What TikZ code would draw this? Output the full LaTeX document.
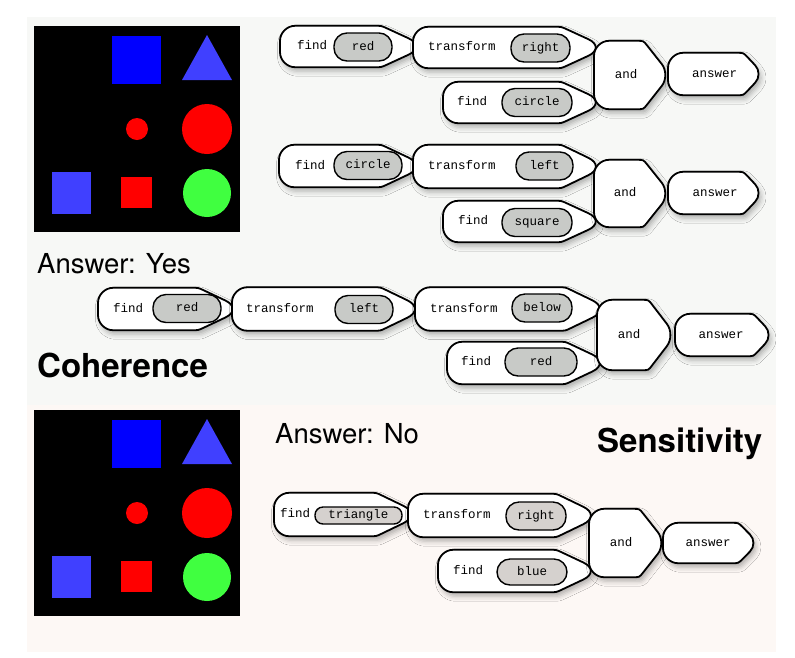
\documentclass[tikz,border=0pt]{standalone}
\usepackage{fontspec}
\setmainfont{TeX Gyre Heros}
\newfontfamily\modfont{Liberation Mono}
\usepackage{xcolor}
\usepackage{tikz}
\usetikzlibrary{calc, shadows.blur}

\definecolor{topbg}{RGB}{247,248,246}
\definecolor{botbg}{RGB}{253,248,245}
\definecolor{pureblue}{RGB}{0,0,255}
\definecolor{softblue}{RGB}{64,64,255}
\definecolor{purered}{RGB}{255,0,0}
\definecolor{softgreen}{RGB}{64,255,64}
\definecolor{argtop}{RGB}{200,202,199}
\definecolor{argbot}{RGB}{213,209,206}

\tikzset{
    modframe/.style={
        rectangle,
        inner sep=0pt,
        anchor=west
    },
    modline/.style={
        draw=black,
        line width=1.8pt,
        fill=white,
        blur shadow={shadow xshift=2.5pt, shadow yshift=-4pt, shadow blur radius=5pt, shadow opacity=30}
    },
    modtext/.style={
        inner sep=0pt,
        text height=8pt,
        text depth=2pt,
        font=\modfont\fontsize{12.5}{14}\selectfont
    },
    argpill/.style={
        modtext,
        draw=black,
        line width=1.4pt,
        fill=argtop,
        rounded corners=13pt,
        minimum height=28pt
    },
    caption/.style={
        anchor=base west,
        inner sep=0pt,
        font=\fontsize{27.5}{30}\selectfont
    },
    heading/.style={
        anchor=base west,
        inner sep=0pt,
        font=\fontsize{33}{36}\selectfont\bfseries
    }
}

% outline of a module: rounded on the left, blunt point on the right
% #1 frame node, #2 length of the slant, #3 how far the tip is rounded off
\newcommand{\modoutline}[3]{%
    \path (#1.north west) coordinate (#1-nw) (#1.south west) coordinate (#1-sw)
        ([xshift=-#2]#1.north east) coordinate (#1-nc)
        ([xshift=-#2]#1.south east) coordinate (#1-sc)
        (#1.east) coordinate (#1-tip);
    \draw[modline]
        ($(#1-nw)!15pt!(#1-sw)$) .. controls ($(#1-nw)!7pt!(#1-sw)$) and ($(#1-nw)!7pt!(#1-nc)$) .. ($(#1-nw)!15pt!(#1-nc)$)
        -- ($(#1-nc)!6pt!(#1-nw)$) .. controls (#1-nc) .. ($(#1-nc)!6pt!(#1-tip)$)
        -- ($(#1-tip)!#3!(#1-nc)$) .. controls ($(#1-tip)!0.45*#3!(#1-nc)$) and ($(#1-tip)!0.45*#3!(#1-sc)$) .. ($(#1-tip)!#3!(#1-sc)$)
        -- ($(#1-sc)!6pt!(#1-tip)$) .. controls (#1-sc) .. ($(#1-sc)!6pt!(#1-sw)$)
        -- ($(#1-sw)!15pt!(#1-sc)$) .. controls ($(#1-sw)!7pt!(#1-sc)$) and ($(#1-sw)!7pt!(#1-nw)$) .. ($(#1-sw)!15pt!(#1-nw)$)
        -- cycle;
}

\begin{document}
\begin{tikzpicture}[x=1pt,y=-1pt]

    \useasboundingbox (0,0) rectangle (795,657);

    % panels
    \fill[topbg] (27,17) rectangle (776,405);
    \fill[botbg] (27,405) rectangle (776,652);

    % the two scenes
    \foreach \oy in {0,384} {
        \begin{scope}[shift={(0,\oy)}]
            \fill[black] (34,26) rectangle (240,232);
            \fill[pureblue] (112,36) rectangle (161,84);
            \fill[softblue] (207,35) -- (182,80) -- (232,80) -- cycle;
            \fill[purered] (137,129) circle[radius=11];
            \fill[purered] (207,129) circle[radius=25];
            \fill[softblue] (52,172) rectangle (91,214);
            \fill[purered] (121,177) rectangle (152,208);
            \fill[softgreen] (207,193) circle[radius=24];
        \end{scope}
    }

    \node[caption] (ansyes) at (37,273) {Answer: Yes};
    \node[heading] (coherence) at (37,377) {Coherence};
    \node[caption] (ansno) at (275,443) {Answer: No};
    \node[heading] (sensitivity) at (597,452) {Sensitivity};

    % first layout
    \node[modframe, minimum width=146pt, minimum height=41pt] (a1) at (280,46.5) {};
    \modoutline{a1}{45pt}{20pt}
    \node[modtext, anchor=west] (a1t) at (297,46.5) {find};
    \node[argpill, minimum width=58pt] (a1arg) at (363,47) {red};
    \node[modframe, minimum width=193pt, minimum height=41pt] (a2) at (413,47.5) {};
    \modoutline{a2}{45pt}{20pt}
    \node[modtext, anchor=west] (a2t) at (428,47.5) {transform};
    \node[argpill, minimum width=59pt] (a2arg) at (540.5,48) {right};
    \node[modframe, minimum width=163pt, minimum height=41pt] (a3) at (443,102.5) {};
    \modoutline{a3}{45pt}{20pt}
    \node[modtext, anchor=west] (a3t) at (457,102.5) {find};
    \node[argpill, minimum width=70pt] (a3arg) at (537,102.5) {circle};
    \node[modframe, minimum width=76pt, minimum height=68pt] (a4) at (594,75) {};
    \modoutline{a4}{27pt}{14pt}
    \node[modtext] (a4t) at (626,75) {and};
    \node[modframe, minimum width=95pt, minimum height=42pt] (a5) at (668,74) {};
    \modoutline{a5}{20pt}{12pt}
    \node[modtext] (a5t) at (714.5,74) {answer};

    % second layout
    \node[modframe, minimum width=147pt, minimum height=42pt] (b1) at (279,166) {};
    \modoutline{b1}{45pt}{20pt}
    \node[modtext, anchor=west] (b1t) at (295,166) {find};
    \node[argpill, minimum width=68pt] (b1arg) at (368,165.5) {circle};
    \node[modframe, minimum width=193pt, minimum height=43pt] (b2) at (413,166.5) {};
    \modoutline{b2}{45pt}{20pt}
    \node[modtext, anchor=west] (b2t) at (428,166.5) {transform};
    \node[argpill, minimum width=57pt] (b2arg) at (544.5,166) {left};
    \node[modframe, minimum width=163pt, minimum height=41pt] (b3) at (443,221.5) {};
    \modoutline{b3}{45pt}{20pt}
    \node[modtext, anchor=west] (b3t) at (458,221.5) {find};
    \node[argpill, minimum width=70pt] (b3arg) at (537,222.5) {square};
    \node[modframe, minimum width=76pt, minimum height=67pt] (b4) at (594,193.5) {};
    \modoutline{b4}{27pt}{14pt}
    \node[modtext] (b4t) at (625,193.5) {and};
    \node[modframe, minimum width=95pt, minimum height=42pt] (b5) at (668,193) {};
    \modoutline{b5}{20pt}{12pt}
    \node[modtext] (b5t) at (715,193) {answer};

    % coherent layout
    \node[modframe, minimum width=145pt, minimum height=42pt] (c1) at (98,309) {};
    \modoutline{c1}{45pt}{20pt}
    \node[modtext, anchor=west] (c1t) at (113,309) {find};
    \node[argpill, minimum width=68pt] (c1arg) at (187,308.5) {red};
    \node[modframe, minimum width=193pt, minimum height=43pt] (c2) at (232,309) {};
    \modoutline{c2}{45pt}{20pt}
    \node[modtext, anchor=west] (c2t) at (246,309.5) {transform};
    \node[argpill, minimum width=58pt] (c2arg) at (364,309.5) {left};
    \node[modframe, minimum width=195pt, minimum height=43pt] (c3) at (415,309) {};
    \modoutline{c3}{45pt}{20pt}
    \node[modtext, anchor=west] (c3t) at (430,309) {transform};
    \node[argpill, minimum width=60pt] (c3arg) at (542,308) {below};
    \node[modframe, minimum width=163pt, minimum height=42pt] (c4) at (447,363) {};
    \modoutline{c4}{45pt}{20pt}
    \node[modtext, anchor=west] (c4t) at (461,362) {find};
    \node[argpill, minimum width=72pt] (c4arg) at (541,362) {red};
    \node[modframe, minimum width=78pt, minimum height=70pt] (c5) at (597,335) {};
    \modoutline{c5}{27pt}{14pt}
    \node[modtext] (c5t) at (629,335) {and};
    \node[modframe, minimum width=98pt, minimum height=42pt] (c6) at (675,335) {};
    \modoutline{c6}{20pt}{12pt}
    \node[modtext] (c6t) at (721,335) {answer};

    % sensitive layout
    \node[modframe, minimum width=147pt, minimum height=43pt] (d1) at (274,514.5) {};
    \modoutline{d1}{45pt}{20pt}
    \node[modtext, anchor=west] (d1t) at (280,514.5) {find};
    \node[argpill, fill=argbot, rounded corners=8pt, minimum width=87pt, minimum height=17pt] (d1arg) at (358.5,515.5) {triangle};
    \node[modframe, minimum width=193pt, minimum height=43pt] (d2) at (408,515.5) {};
    \modoutline{d2}{45pt}{20pt}
    \node[modtext, anchor=west] (d2t) at (423,515.5) {transform};
    \node[argpill, fill=argbot, minimum width=60pt] (d2arg) at (536,516) {right};
    \node[modframe, minimum width=163pt, minimum height=42pt] (d3) at (438,571) {};
    \modoutline{d3}{45pt}{20pt}
    \node[modtext, anchor=west] (d3t) at (453,571) {find};
    \node[argpill, fill=argbot, minimum width=70pt, minimum height=26pt] (d3arg) at (532,572) {blue};
    \node[modframe, minimum width=77pt, minimum height=68pt] (d4) at (589,543) {};
    \modoutline{d4}{27pt}{14pt}
    \node[modtext] (d4t) at (621,543) {and};
    \node[modframe, minimum width=95pt, minimum height=40pt] (d5) at (663,543) {};
    \modoutline{d5}{20pt}{12pt}
    \node[modtext] (d5t) at (708,543) {answer};

\end{tikzpicture}
\end{document}
